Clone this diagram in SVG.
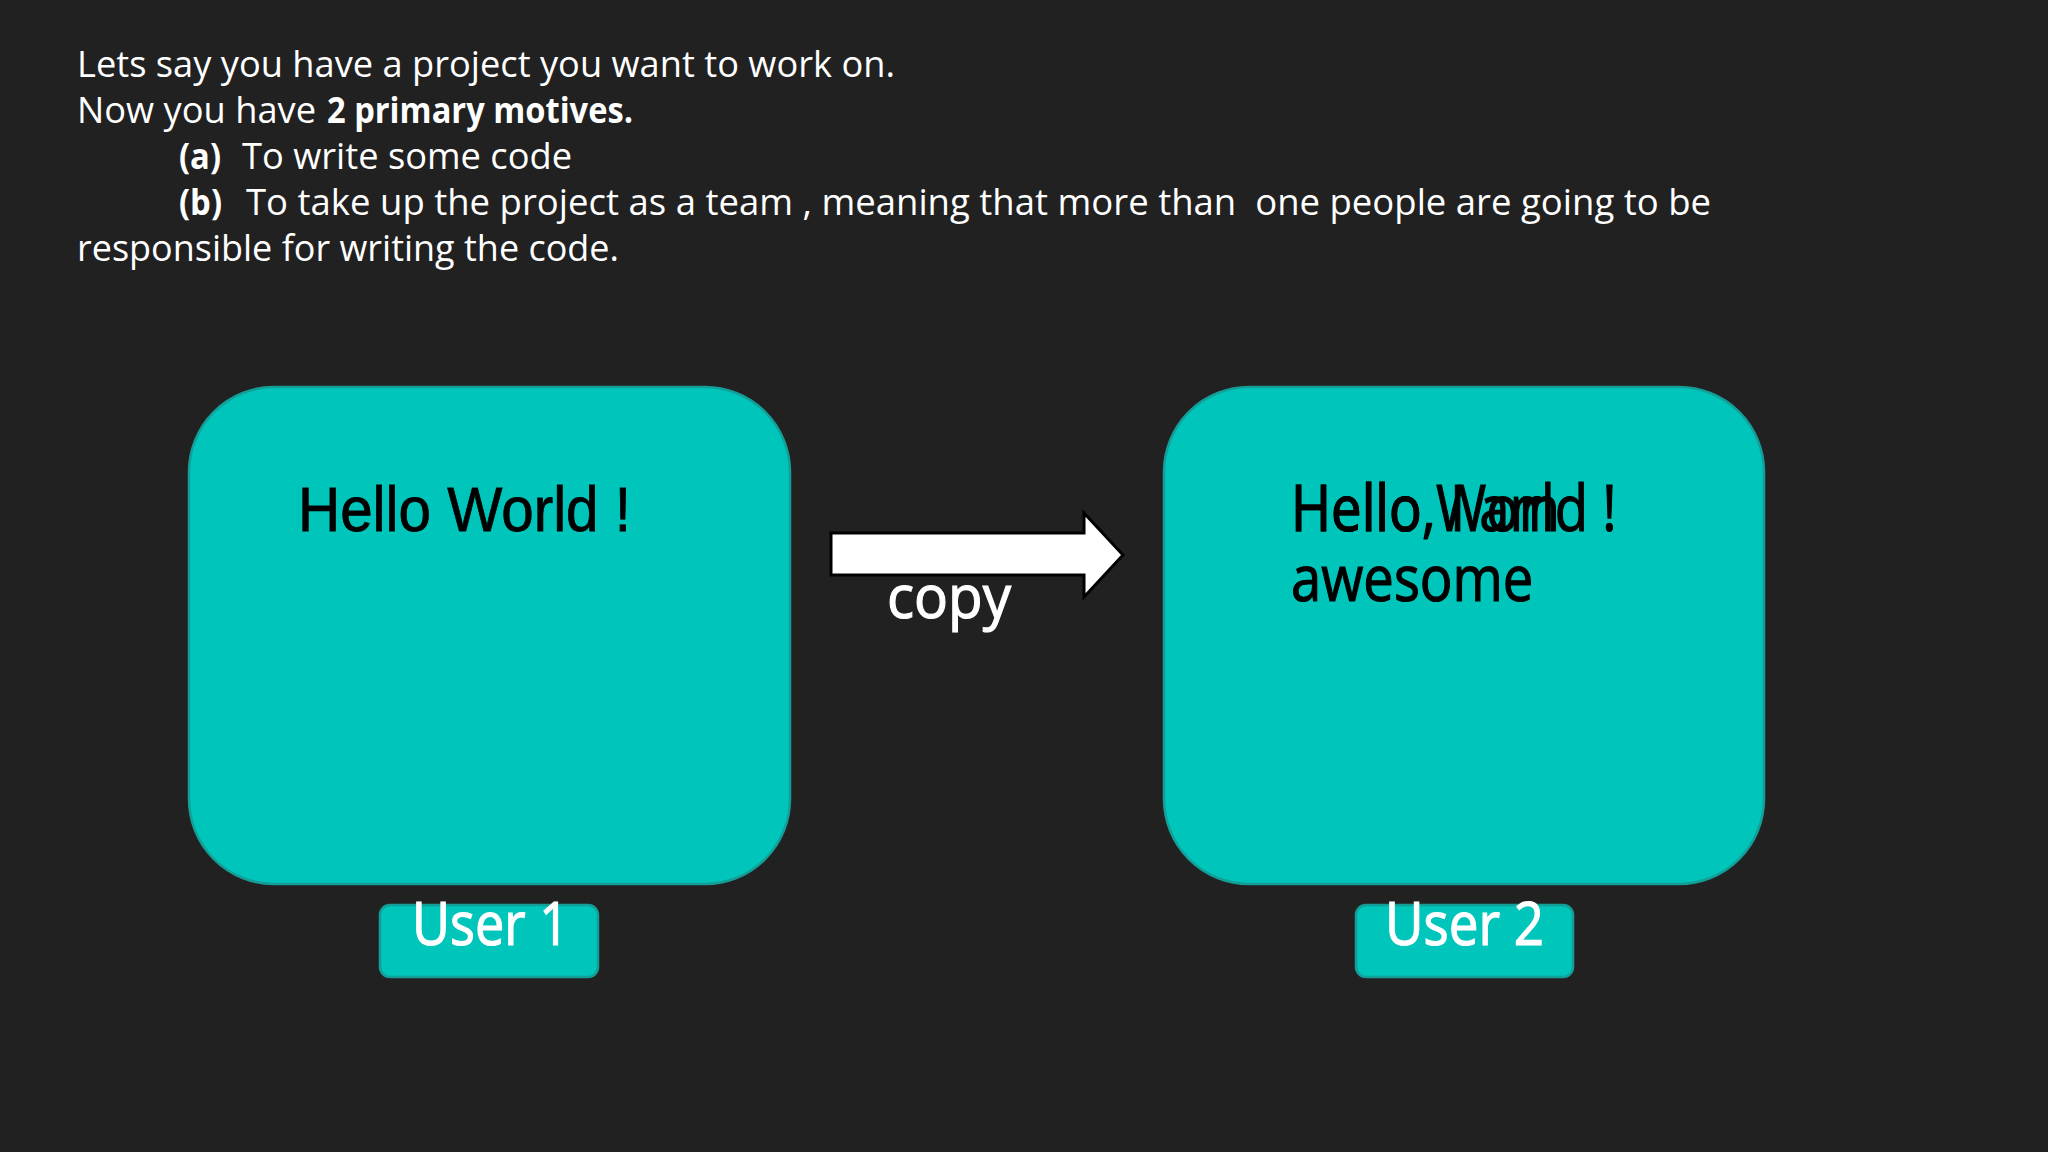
<svg xmlns="http://www.w3.org/2000/svg" width="2048" height="1152" viewBox="0 0 2048 1152">
  <style>
    .hdr { font-family: "Open Sans", "Noto Sans", sans-serif; font-size: 36px; fill: #ffffff; white-space: pre; }
    .b { font-weight: bold; }
    .box { fill: #00c5bb; stroke: #139e97; stroke-width: 2.5; }
    .lbl { fill: #00c5bb; stroke: #139e97; stroke-width: 2.5; }
    .lbltxt { font-family: "Open Sans", "Noto Sans", sans-serif; font-size: 61px; fill: #ffffff; stroke: #ffffff; stroke-width: 1.2; }
    .code { font-family: "Open Sans", "Noto Sans", sans-serif; font-size: 64px; fill: #000000; stroke: #000000; stroke-width: 1.2; }
    .arial { font-family: "Liberation Sans", Arial, sans-serif; font-size: 63px; fill: #000000; stroke: #000000; stroke-width: 0.8; }
  </style>
  <rect x="0" y="0" width="2048" height="1152" fill="#212121"/>

  <g id="intro">
    <text class="hdr" x="77" y="77" textLength="818" lengthAdjust="spacingAndGlyphs">Lets say you have a project you want to work on.</text>
    <text class="hdr" x="77" y="123" textLength="239" lengthAdjust="spacingAndGlyphs">Now you have</text>
    <text class="hdr b" x="327" y="123" textLength="306" lengthAdjust="spacingAndGlyphs">2 primary motives.</text>
    <text class="hdr b" x="179" y="169" textLength="42" lengthAdjust="spacingAndGlyphs">(a)</text>
    <text class="hdr" x="242" y="169" textLength="330" lengthAdjust="spacingAndGlyphs">To write some code</text>
    <text class="hdr b" x="179" y="215" textLength="43" lengthAdjust="spacingAndGlyphs">(b)</text>
    <text class="hdr" x="246" y="215" textLength="1465" lengthAdjust="spacingAndGlyphs">To take up the project as a team , meaning that more than  one people are going to be</text>
    <text class="hdr" x="77" y="261" textLength="542" lengthAdjust="spacingAndGlyphs">responsible for writing the code.</text>
  </g>

  <g id="user1-repo">
    <rect class="box" x="189" y="387" width="601" height="497" rx="85" ry="85"/>
    <text class="arial" x="298" y="531" textLength="333" lengthAdjust="spacingAndGlyphs">Hello World !</text>
  </g>

  <g id="user2-repo">
    <rect class="box" x="1164" y="387" width="600" height="497" rx="85" ry="85"/>
    <g transform="translate(1291 0) scale(0.85 1)">
      <text class="code" x="0" y="531">Hello World !</text>
      <text class="code" x="0" y="531">Hello, I am</text>
      <text class="code" x="0" y="601">awesome</text>
    </g>
  </g>

  <g id="user1-label">
    <rect class="lbl" x="380" y="905" width="218" height="72" rx="10" ry="10"/>
    <text class="lbltxt" x="412" y="945" textLength="157" lengthAdjust="spacingAndGlyphs">User 1</text>
  </g>

  <g id="user2-label">
    <rect class="lbl" x="1356" y="905" width="217" height="72" rx="10" ry="10"/>
    <text class="lbltxt" x="1385" y="945" textLength="159" lengthAdjust="spacingAndGlyphs">User 2</text>
  </g>

  <g id="connectors">
    <path d="M831,533 L1084,533 L1084,513 L1123,555 L1084,597 L1084,575 L831,575 Z" fill="#ffffff" stroke="#000000" stroke-width="3" stroke-linejoin="miter"/>
    <text x="887" y="618" textLength="124" lengthAdjust="spacingAndGlyphs" style="font-family: 'Open Sans', 'Noto Sans', sans-serif; font-size: 60px; fill: #ffffff; stroke: #ffffff; stroke-width: 1.2;">copy</text>
  </g>
</svg>
